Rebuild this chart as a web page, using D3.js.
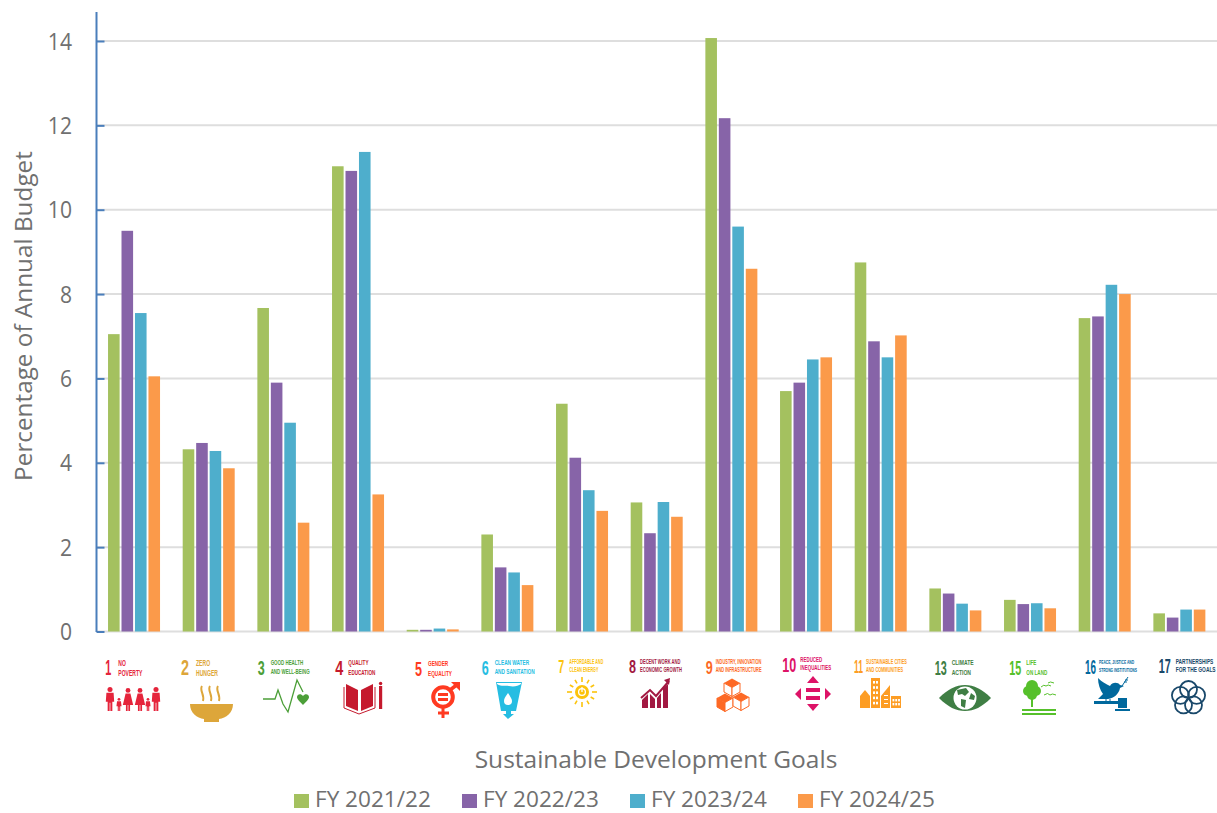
<!DOCTYPE html>
<html><head><meta charset="utf-8">
<script src="https://cdn.jsdelivr.net/npm/d3@7/dist/d3.min.js"></script>
<style>html,body{margin:0;background:#fff}svg{display:block}</style></head>
<body><svg id="c" width="1217" height="813"></svg>
<script>
const goals=["1","2","3","4","5","6","7","8","9","10","11","13","15","16","17"];
const goalLine1=["NO","ZERO","GOOD HEALTH","QUALITY","GENDER","CLEAN WATER","AFFORDABLE AND","DECENT WORK AND","INDUSTRY, INNOVATION","REDUCED","SUSTAINABLE CITIES","CLIMATE","LIFE","PEACE, JUSTICE AND","PARTNERSHIPS"];
const goalLine2=["POVERTY","HUNGER","AND WELL-BEING","EDUCATION","EQUALITY","AND SANITATION","CLEAN ENERGY","ECONOMIC GROWTH","AND INFRASTRUCTURE","INEQUALITIES","AND COMMUNITIES","ACTION","ON LAND","STRONG INSTITUTIONS","FOR THE GOALS"];
const goalColors=["#E5243B","#DDA63A","#4C9F38","#C5192D","#FF3A21","#26BDE2","#FCC30B","#A21942","#FD6925","#DD1367","#FD9D24","#3F7E44","#56C02B","#00689D","#19486A"];
const seriesNames=["FY 2021/22","FY 2022/23","FY 2023/24","FY 2024/25"];
const seriesColors=["#A4C15F","#8764A8","#4EAECC","#FB9A4A"];
const fy2122=[7.05,4.32,7.67,11.03,0.04,2.3,5.4,3.06,14.07,5.7,8.75,1.02,0.75,7.43,0.43];
const fy2223=[9.5,4.47,5.9,10.92,0.04,1.52,4.12,2.33,12.17,5.9,6.88,0.9,0.65,7.47,0.33];
const fy2324=[7.55,4.28,4.95,11.37,0.07,1.4,3.35,3.07,9.6,6.45,6.5,0.66,0.67,8.22,0.52];
const fy2425=[6.05,3.87,2.58,3.25,0.05,1.1,2.86,2.72,8.6,6.5,7.02,0.5,0.55,8.0,0.52];
const seriesValues=[fy2122,fy2223,fy2324,fy2425];
const yTicks=[0,2,4,6,8,10,12,14];

const FONT='"Open Sans",sans-serif', GREY='#707070';
const svg=d3.select('#c');
const x0=d3.scaleBand().domain(goals).range([97,1217]);
const x1=d3.scaleBand().domain(seriesNames).range([-26.3,25.7]).paddingInner(0.14);
const y=d3.scaleLinear().domain([0,14]).range([631.5,41]);

function path(g,d,col,sw){const p=g.append('path').attr('d',d);if(sw){p.attr('fill','none').attr('stroke',col).attr('stroke-width',sw)}else p.attr('fill',col);return p}
function person(g,x,top,h,col,dress){
 const r=h*0.105, w=h*0.15;
 g.append('circle').attr('cx',x).attr('cy',top+r).attr('r',r).attr('fill',col);
 const s=top+2*r+0.6, b=top+h;
 if(dress){path(g,`M${x-w*.7},${s}H${x+w*.7}L${x+w*1.5},${s+h*.5}H${x+w*.6}V${b}H${x+w*.1}V${s+h*.5}H${x-w*.1}V${b}H${x-w*.6}V${s+h*.5}H${x-w*1.5}Z`,col);return;}
 path(g,`M${x-w},${s}H${x+w}L${x+w+.6},${s+h*0.38}H${x+w*0.65}V${b}H${x+w*0.1}V${s+h*.42}H${x-w*0.1}V${b}H${x-w*0.65}V${s+h*.38}H${x-w-.6}Z`,col);
}
const icons=[
 (g,c)=>{person(g,110,687,24,c);person(g,119,698,13,c);person(g,128,688,23,c,1);person(g,140,688,23,c,1);person(g,148,698,13,c);person(g,156,687,24,c);},
 (g,c)=>{path(g,'M190,704H233C233,713 226,718 219,719V722H204V719C197,718 190,713 190,704Z',c);
  [202,210,218].forEach(x=>path(g,`M${x},686C${x-3},690 ${x+3},695 ${x+1},701`,c,2));},
 (g,c)=>{path(g,'M263,699H275L278,690L283,704L288,712L297,680L303,692',c,1.3);
  path(g,'M303,705C299,701 297,699 297,697C297,694 301,693 303,696C305,693 309,694 309,697C309,699 307,701 303,705Z',c);},
 (g,c)=>{path(g,'M346,684L358,690V711L346,706Z',c);path(g,'M373,684L361,690V711L373,706Z',c);
  path(g,'M344,687V708L359,714L375,708V687',c,1);
  g.append('rect').attr('x',379).attr('y',686).attr('width',3.2).attr('height',23).attr('fill',c);g.append('circle').attr('cx',380.6).attr('cy',683.5).attr('r',1.7).attr('fill',c);},
 (g,c)=>{g.append('circle').attr('cx',443).attr('cy',697).attr('r',9.8).attr('fill','none').attr('stroke',c).attr('stroke-width',4);
  g.append('rect').attr('x',438).attr('y',693).attr('width',10).attr('height',3).attr('fill',c);g.append('rect').attr('x',438).attr('y',698).attr('width',10).attr('height',3).attr('fill',c);
  path(g,'M450,690L458,684',c,3.5);path(g,'M451,682H460V691Z',c);
  path(g,'M443,708V718M438,713H449',c,3);},
 (g,c)=>{path(g,'M496,682H522L516,711H511V714H514L508,719L503,714H506V711H501Z',c);
  path(g,'M497,684C502,687 505,685 509,686C514,687 518,686 521,684V683H497Z','#fff');
  path(g,'M508,693C505,697 504,699 504,701A4,4 0 0 0 512,701C512,699 510,696 508,693Z','#fff');},
 (g,c)=>{d3.range(12).forEach(k=>{const a=k*Math.PI/6,ca=Math.cos(a),sa=Math.sin(a);
   path(g,`M${582+10*ca},${692+10*sa}L${582+(k%3==0?15:14)*ca},${692+(k%3==0?15:14)*sa}`,c,1.6)});
  g.append('circle').attr('cx',582).attr('cy',692).attr('r',7).attr('fill',c);
  g.append('circle').attr('cx',582).attr('cy',692).attr('r',3.4).attr('fill','none').attr('stroke','#fff').attr('stroke-width',1.3);
  path(g,'M582,687V692','#fff',1.3);},
 (g,c)=>{path(g,'M641,698L650,690L656,696L669,681',c,2);path(g,'M664,680L670,678L669,685Z',c);
  path(g,'M642,708V700L648,694V708Z',c);path(g,'M650,708V694L655,699V708Z',c);path(g,'M657,708V698L661,693V708Z',c);path(g,'M663,708V688L668,684V708Z',c);},
 (g,c)=>{const cube=(cxx,cy,fill)=>{const w=8,h=4.5,v=9;
   path(g,`M${cxx},${cy-h}L${cxx+w},${cy}L${cxx},${cy+h}L${cxx-w},${cy}Z`,c);
   path(g,`M${cxx-w},${cy}V${cy+v}L${cxx},${cy+v+h}V${cy+h}Z`,fill?c:'#fff').attr('stroke',c).attr('stroke-width',1);
   path(g,`M${cxx+w},${cy}V${cy+v}L${cxx},${cy+v+h}V${cy+h}Z`,'#fff').attr('stroke',c).attr('stroke-width',1);};
   cube(732,683,0);cube(725,698,1);
   path(g,'M741,698L749,702V709L741,711L733,707V702Z','#fff');cube(741,697,0);},
 (g,c)=>{path(g,'M813,676L819,683H807Z',c);path(g,'M813,711L819,704H807Z',c);path(g,'M795,694L801,688V700Z',c);path(g,'M831,694L825,688V700Z',c);
  g.append('rect').attr('x',806).attr('y',688).attr('width',14).attr('height',4).attr('fill',c);g.append('rect').attr('x',806).attr('y',696).attr('width',14).attr('height',4).attr('fill',c);},
 (g,c)=>{path(g,'M860,696L865,690L870,696V708H860Z',c);
  g.append('rect').attr('x',871).attr('y',678).attr('width',9).attr('height',30).attr('fill',c);
  path(g,'M881,708V696L890,685V708Z',c);
  g.append('rect').attr('x',891).attr('y',696).attr('width',10).attr('height',12).attr('fill',c);
  for(let a=0;a<5;a++)for(let b=0;b<2;b++)g.append('rect').attr('x',873+b*3).attr('y',681+a*5.2).attr('width',2).attr('height',2.6).attr('fill','#fff');
  for(let a=0;a<2;a++)for(let b=0;b<3;b++)g.append('rect').attr('x',892.5+b*2.8).attr('y',699+a*4).attr('width',1.8).attr('height',2.4).attr('fill','#fff');
  for(let a=0;a<3;a++)g.append('rect').attr('x',884).attr('y',695+a*4).attr('width',4).attr('height',1).attr('fill','#fff');},
 (g,c)=>{path(g,'M939,698C948,689 956,685 965,685C974,685 982,689 991,698C982,707 974,711 965,711C956,711 948,707 939,698Z',c);
  g.append('circle').attr('cx',965).attr('cy',698).attr('r',11.5).attr('fill','#fff');
  path(g,'M957,690L966,688L969,692L965,696L962,694L958,695Z',c);path(g,'M961,699L966,700L965,708L961,706Z',c);path(g,'M971,693L975,696L974,700L969,699Z',c);},
 (g,c)=>{[[1028,691,5],[1036,691,5],[1032,686,6],[1032,695,5]].forEach(a=>g.append('circle').attr('cx',a[0]).attr('cy',a[1]).attr('r',a[2]).attr('fill',c));
  g.append('rect').attr('x',1031).attr('y',698).attr('width',2).attr('height',9).attr('fill',c);
  g.append('rect').attr('x',1022).attr('y',709).attr('width',34).attr('height',2).attr('fill',c);g.append('rect').attr('x',1022).attr('y',713).attr('width',34).attr('height',2).attr('fill',c);
  path(g,'M1041,687Q1044,684 1046,686Q1048,684 1051,686',c,1);path(g,'M1048,683Q1050,681 1054,683',c,1);path(g,'M1044,695Q1048,692 1050,695Q1052,693 1056,695',c,1);},
 (g,c)=>{path(g,'M1098,678C1102,682 1106,684 1110,686C1112,682 1118,682 1120,685L1124,686L1120,688C1119,694 1114,698 1108,699L1098,699L1103,694C1100,690 1098,684 1098,678Z',c);
  path(g,'M1122,686L1128,677',c,1);path(g,'M1124,682L1127,682M1125,680L1128,680',c,1);
  path(g,'M1106,699V702M1110,699V702',c,1);
  g.append('rect').attr('x',1094).attr('y',701).attr('width',25).attr('height',3).attr('fill',c);
  g.append('rect').attr('x',1118).attr('y',698).attr('width',9).attr('height',10).attr('fill',c);g.append('rect').attr('x',1115).attr('y',709).attr('width',15).attr('height',2).attr('fill',c);},
 (g,c)=>{d3.range(5).forEach(k=>{const a=-Math.PI/2+k*2*Math.PI/5;
   g.append('circle').attr('cx',1188.5+8.5*Math.cos(a)).attr('cy',698+8.5*Math.sin(a)).attr('r',8.5).attr('fill','none').attr('stroke',c).attr('stroke-width',1.8)});}
];

// grid
svg.append('g').selectAll('line').data(yTicks).join('line')
 .attr('x1',97).attr('x2',1217).attr('y1',d=>y(d)).attr('y2',d=>y(d))
 .attr('stroke','#dedede').attr('stroke-width',2);

// bars
seriesNames.forEach((s,si)=>{
 svg.append('g').selectAll('rect').data(seriesValues[si]).join('rect')
  .attr('x',(d,i)=>x0(goals[i])+x0.bandwidth()/2+x1(s))
  .attr('width',x1.bandwidth())
  .attr('y',d=>y(d)).attr('height',d=>y(0)-y(d))
  .attr('fill',seriesColors[si]);
});

// y axis
const ax=svg.append('g').attr('transform','translate(96.5,0)')
 .call(d3.axisRight(y).tickValues(yTicks).tickSize(8).tickFormat(''));
ax.select('.domain').remove();
ax.selectAll('line').attr('stroke','#4a7ebb').attr('stroke-width',2);
svg.append('line').attr('x1',96.5).attr('x2',96.5).attr('y1',12).attr('y2',632).attr('stroke','#4a7ebb').attr('stroke-width',2);

// text squeezed horizontally to a given width, left anchored
function fit(sel,x,yy,sx){sel.attr('transform',`translate(${x},${yy}) scale(${sx},1)`);return sel}
svg.append('g').selectAll('text').data(yTicks).join('text')
 .attr('transform',d=>`translate(72,${y(d)+8.5}) scale(0.88,1)`).attr('text-anchor','end')
 .attr('font-family',FONT).attr('font-size',24).attr('fill',GREY).text(d=>d);

svg.append('text').attr('transform','translate(32,316) rotate(-90)').attr('text-anchor','middle')
 .attr('font-family',FONT).attr('font-size',24.3).attr('fill',GREY).text('Percentage of Annual Budget');
svg.append('text').attr('x',656).attr('y',768).attr('text-anchor','middle')
 .attr('font-family',FONT).attr('font-size',24.5).attr('fill',GREY).text('Sustainable Development Goals');

// legend
const lg=svg.append('g').selectAll('g').data(seriesNames).join('g')
 .attr('transform',(d,i)=>`translate(${294+i*168},0)`);
lg.append('rect').attr('y',794).attr('width',15).attr('height',14).attr('fill',(d,i)=>seriesColors[i]);
lg.append('text').attr('transform','translate(21,806.6) scale(1.05,1)').attr('font-family',FONT).attr('font-size',21.5).attr('fill',GREY).text(d=>d);

// SDG labels: offsets from band centre [number x, number w, number baseline, number size, text x, text w, line1 y, line2 y, text size]
const labelLayout=[
 [-29,6,675,22,-16,24,666,675.5,8.5],[-28,8,675,22,-13,22,666,676,8.5],[-26,7,675,21,-13,39,665,674,7.5],[-23,8,675,21,-10,27,665,675,8],
 [-18,7,676,21,-5,24,666,676,8],[-26,7,675,20,-13,40,665,674,7.5],[-24,6,673,18,-13,34,664,672,6.5],[-28,7,673,18,-17,42,664,672,6.5],
 [-26,7,674,19,-16,46,664,672,6.5],[-24,14,672,20,-6,31,662,670,6.5],[-27,9,673,18,-15,41,664,672,6.5],[-21,12,675,21,-4,22,665,675,8],
 [-21,12,675,21,-4,21,665,675,8],[-20,11,674,20,-6,38,664,672,6],[-21,12,673,20,-4,40,664,672,7.5]];
const cx=i=>x0(goals[i])+x0.bandwidth()/2;
const NARROW='"Liberation Sans Narrow","Liberation Sans",sans-serif';
goals.forEach((g,i)=>{
 const L=labelLayout[i], G=svg.append('g').attr('transform',`translate(${cx(i)},0)`).attr('fill',goalColors[i])
   .attr('font-family',NARROW).attr('font-weight',700);
 const n=G.append('text').attr('font-size',L[3]).text(g);
 fit(n,L[0],L[2],L[1]/n.node().getComputedTextLength());
 const a=G.append('text').attr('font-size',L[8]).text(goalLine1[i]), b=G.append('text').attr('font-size',L[8]).text(goalLine2[i]);
 const sx=L[5]/Math.max(a.node().getComputedTextLength(),b.node().getComputedTextLength());
 fit(a,L[4],L[6],sx);fit(b,L[4],L[7],sx);
 icons[i](G.append('g').attr('transform',`translate(${-cx(i)},0)`),goalColors[i]);
});
</script></body></html>
